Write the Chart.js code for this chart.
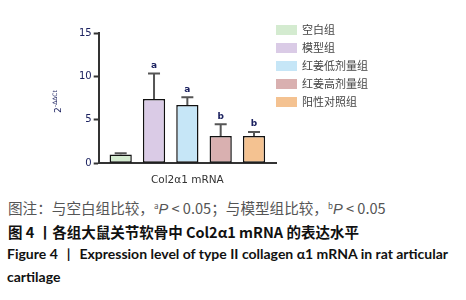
<!DOCTYPE html>
<html>
<head>
<meta charset="utf-8">
<script src="https://cdn.jsdelivr.net/npm/chart.js@4"></script>
<style>
  html, body { margin: 0; padding: 0; background: #fff; }
  #wrap { position: relative; width: 466px; height: 300px; overflow: hidden; }
  #chartBox { position: absolute; left: 0; top: 0; width: 466px; height: 190px; }
  .cap { position: absolute; left: 8px; white-space: nowrap; }
  #note { top: 197px; font: 14.6px "Noto Sans CJK SC", sans-serif; color: #555; }
  #note i { font-family: "Liberation Sans", sans-serif; }
  #note sup { font-size: 8px; vertical-align: 5px; }
  #cn { top: 221px; font: bold 14.5px "Noto Sans CJK SC", sans-serif; color: #111; }
  #en1 { top: 245px; left: 7px; font: bold 14px Lato, sans-serif; color: #111; }
  #en2 { top: 268px; left: 7px; font: bold 14px Lato, sans-serif; color: #111; }
  .gap { display: inline-block; width: 9px; }
</style>
</head>
<body>
<div id="wrap">
  <div id="chartBox"><canvas id="col2Chart"></canvas></div>
  <div class="cap" id="note">图注：与空白组比较，<sup>a</sup><i>P</i> &lt; 0.05；与模型组比较，<sup>b</sup><i>P</i> &lt; 0.05</div>
  <div class="cap" id="cn">图 4 丨各组大鼠关节软骨中 Col2α1 mRNA 的表达水平</div>
  <div class="cap" id="en1">Figure 4<span class="gap"></span>|<span class="gap"></span>Expression level of type II collagen α1 mRNA in rat articular</div>
  <div class="cap" id="en2">cartilage</div>
</div>
<script>
'use strict';

// --- data ---
const CATEGORY = ['Col2α1 mRNA'];
const GROUPS = ['空白组', '模型组', '红姜低剂量组', '红姜高剂量组', '阳性对照组'];
const MEANS = [1.0, 7.4, 6.7, 3.15, 3.15];
const ERRORS = [0.15, 2.95, 0.9, 1.35, 0.45];
const SIG = ['', 'a', 'a', 'b', 'b'];
const Y_TICKS = [0, 5, 10, 15];
const COLORS = ['#d4ebd0', '#dacbe6', '#c6e6f7', '#d9b0b0', '#f4c291'];

const NAVY = '#1c2260';

// upper error whiskers + significance letters
const errorBars = {
  id: 'errorBars',
  afterDatasetsDraw(chart) {
    const ctx = chart.ctx;
    const y = chart.scales.y;
    ctx.save();
    chart.data.datasets.forEach((ds, i) => {
      const bar = chart.getDatasetMeta(i).data[0];
      const top = y.getPixelForValue(MEANS[i] + ERRORS[i]);
      ctx.strokeStyle = '#555';
      ctx.lineWidth = 2;
      ctx.beginPath();
      ctx.moveTo(bar.x, bar.y);
      ctx.lineTo(bar.x, top);
      ctx.moveTo(bar.x - 6, top);
      ctx.lineTo(bar.x + 6, top);
      ctx.stroke();
      if (SIG[i]) {
        ctx.fillStyle = NAVY;
        ctx.font = 'bold 9px "DejaVu Sans", sans-serif';
        ctx.textAlign = 'center';
        ctx.textBaseline = 'middle';
        ctx.fillText(SIG[i], bar.x, top - 8);
      }
    });
    ctx.restore();
  },
};

// side legend and y-axis title (2^-ΔΔCt)
const extras = {
  id: 'extras',
  afterDraw(chart) {
    const ctx = chart.ctx;
    ctx.save();
    chart.data.datasets.forEach((ds, i) => {
      const top = 25 + i * 18;
      ctx.fillStyle = ds.backgroundColor;
      ctx.fillRect(276, top, 21, 10);
      ctx.fillStyle = '#444';
      ctx.font = '11px "Noto Sans CJK SC", sans-serif';
      ctx.textBaseline = 'middle';
      ctx.textAlign = 'left';
      ctx.fillText(ds.label, 302, top + 5);
    });
    ctx.translate(61, 113);
    ctx.rotate(-Math.PI / 2);
    ctx.fillStyle = NAVY;
    ctx.textBaseline = 'alphabetic';
    ctx.font = '9px "DejaVu Sans", sans-serif';
    ctx.fillText('2', 0, 0);
    ctx.font = '6px "DejaVu Sans", sans-serif';
    ctx.fillText('-ΔΔCt', 6, -4);
    ctx.restore();
  },
};

new Chart(document.getElementById('col2Chart').getContext('2d'), {
  type: 'bar',
  data: {
    labels: CATEGORY,
    datasets: GROUPS.map((g, i) => ({
      label: g,
      data: [MEANS[i]],
      backgroundColor: COLORS[i],
      borderColor: '#111',
      borderWidth: 1.5,
      borderSkipped: false,
      categoryPercentage: 0.94,
      barPercentage: 0.667,
    })),
  },
  options: {
    responsive: true,
    maintainAspectRatio: false,
    animation: false,
    layout: { padding: { left: 50, right: 190, top: 33, bottom: 0 } },
    plugins: { legend: { display: false }, tooltip: { enabled: false } },
    scales: {
      x: {
        grid: { display: false, drawTicks: false },
        border: { display: true, color: '#333', width: 2 },
        ticks: { display: false },
        title: {
          display: true,
          text: 'Col2α1 mRNA',
          color: '#333',
          font: { family: 'DejaVu Sans', size: 10.5 },
          padding: { top: 0, bottom: 3 },
        },
        afterFit(s) { s.height = 26.7; },
      },
      y: {
        min: 0,
        max: 15,
        afterBuildTicks(s) { s.ticks = Y_TICKS.map(v => ({ value: v })); },
        grid: { drawOnChartArea: false, drawTicks: true, tickLength: 5, tickColor: '#333', tickWidth: 2 },
        border: { display: true, color: '#333', width: 2 },
        ticks: { color: NAVY, padding: 2, font: { family: 'DejaVu Sans', size: 10 } },
        afterFit(s) { s.width = 48.7; },
      },
    },
  },
  plugins: [errorBars, extras],
});
</script>
</body>
</html>
